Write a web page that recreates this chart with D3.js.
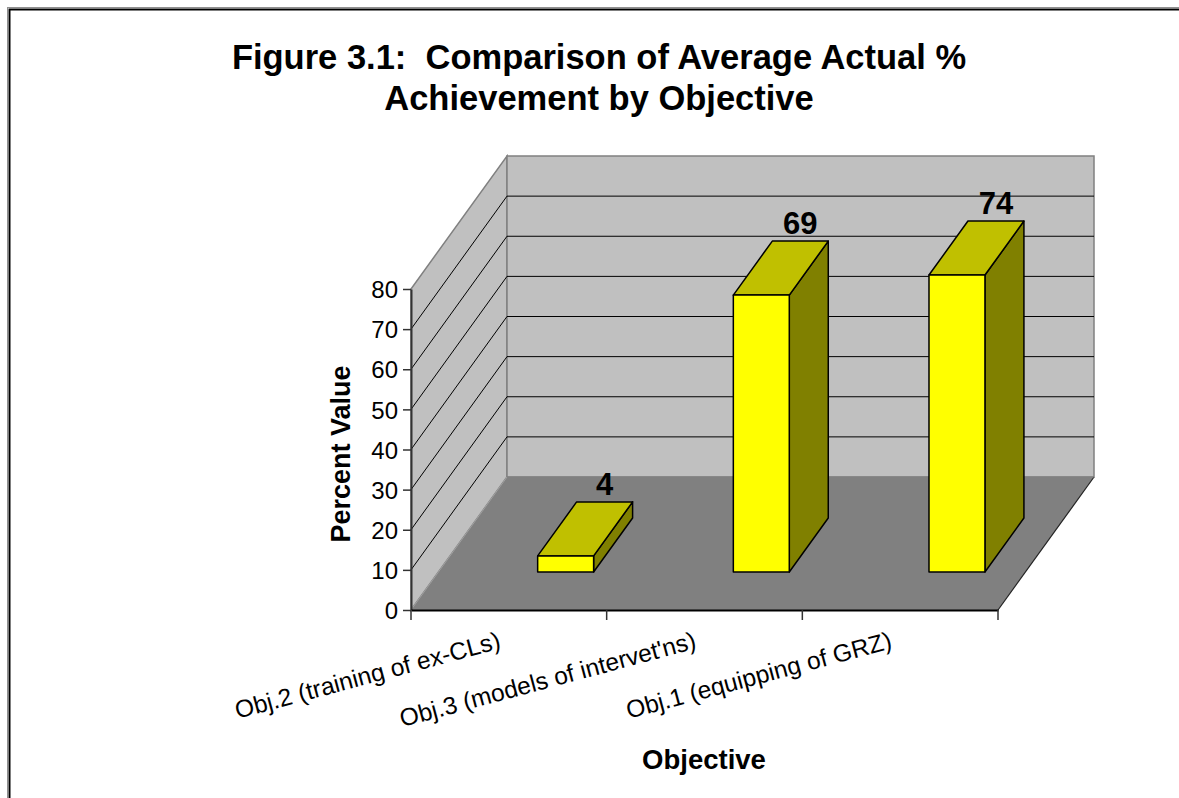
<!DOCTYPE html>
<html>
<head>
<meta charset="utf-8">
<script src="https://cdn.jsdelivr.net/npm/d3@7"></script>
<style>
  html, body { margin: 0; padding: 0; background: #fff; }
  svg { display: block; font-family: "Liberation Sans", Arial, sans-serif; }
  text { white-space: pre; }
</style>
</head>
<body>
<svg id="chart" width="1179" height="798"></svg>
<script>
// Chart data
const categories = ["Obj.2 (training of ex-CLs)", "Obj.3 (models of intervet'ns)", "Obj.1 (equipping of GRZ)"];
const values = [4, 69, 74];
const yTicks = [0, 10, 20, 30, 40, 50, 60, 70, 80];
const titleLines = ["Figure 3.1:  Comparison of Average Actual %", "Achievement by Objective"];
const yAxisTitle = "Percent Value";
const xAxisTitle = "Objective";

const svg = d3.select("#chart");

// Front plane of the 3D box
const frontLeft = 411, frontRight = 998;
const x = d3.scaleBand().domain(categories).range([frontLeft, frontRight]).paddingInner(0).paddingOuter(0);
const y = d3.scaleLinear().domain([0, 80]).range([610, 289]);
// Depth (0 = front, 1 = back wall) as an oblique offset
const depthX = d3.scaleLinear().domain([0, 1]).range([0, 96]);
const depthY = d3.scaleLinear().domain([0, 1]).range([0, -133]);
const P = (px, val, d) => [px + depthX(d), y(val) + depthY(d)];

const yMax = 80;
const line = d3.line();

// Chart border
svg.append("rect").attr("x", 7.5).attr("y", 7.5).attr("width", 1200).attr("height", 820)
  .attr("fill", "none").attr("stroke", "#909090").attr("stroke-width", 1);
svg.append("rect").attr("x", 9.5).attr("y", 9.5).attr("width", 1200).attr("height", 820)
  .attr("fill", "none").attr("stroke", "#000").attr("stroke-width", 2);

// Title
svg.append("g").selectAll("text").data(titleLines).join("text")
  .attr("x", 599).attr("y", (d, i) => 69 + i * 41)
  .attr("text-anchor", "middle").attr("font-weight", "bold").attr("font-size", 34.5)
  .attr("xml:space", "preserve")
  .text(d => d);

// Left side wall
svg.append("path")
  .attr("d", line([P(frontLeft, 0, 0), P(frontLeft, yMax, 0), P(frontLeft, yMax, 1), P(frontLeft, 0, 1)]) + "Z")
  .attr("fill", "#c0c0c0").attr("stroke", "#808080").attr("stroke-width", 1.5);
// Back wall
svg.append("path")
  .attr("d", line([P(frontLeft, 0, 1), P(frontLeft, yMax, 1), P(frontRight, yMax, 1), P(frontRight, 0, 1)]) + "Z")
  .attr("fill", "#c0c0c0").attr("stroke", "#808080").attr("stroke-width", 1.5);

// Gridlines on the walls
const gridVals = yTicks.filter(v => v > 0 && v < yMax);
const grid = svg.append("g").attr("stroke", "#000").attr("stroke-width", 1).attr("fill", "none");
gridVals.forEach(v => {
  grid.append("path").attr("d", line([P(frontLeft, v, 0), P(frontLeft, v, 1), P(frontRight, v, 1)]));
});

// Floor
svg.append("path")
  .attr("d", line([P(frontLeft, 0, 0), P(frontRight, 0, 0), P(frontRight, 0, 1), P(frontLeft, 0, 1)]) + "Z")
  .attr("fill", "#808080").attr("stroke", "none");
svg.append("path").attr("d", line([P(frontRight, 0, 0), P(frontRight, 0, 1)]))
  .attr("stroke", "#222").attr("stroke-width", 1.2);
svg.append("path").attr("d", line([P(frontLeft, 0, 1), P(frontLeft, 0, 0)]))
  .attr("stroke", "#a0a0a0").attr("stroke-width", 1);
svg.append("path").attr("d", line([P(frontLeft, 0, 1), P(frontRight, 0, 1)]))
  .attr("stroke", "#808080").attr("stroke-width", 1);

// Value axis
const yAxis = svg.append("g").attr("transform", `translate(${frontLeft},0)`)
  .call(d3.axisLeft(y).tickValues(yTicks).tickSize(8).tickPadding(5).tickSizeOuter(0));
yAxis.select(".domain").attr("stroke", "#333").attr("stroke-width", 2);
yAxis.selectAll(".tick line").attr("stroke", "#333").attr("stroke-width", 1.5);
yAxis.selectAll(".tick text").attr("font-size", 24).attr("font-family", "Liberation Sans, Arial, sans-serif")
  .attr("fill", "#000").attr("dy", "0.36em");

// Category axis along the floor's front edge
const xAxis = svg.append("g").attr("transform", `translate(0,${y(0)})`)
  .call(d3.axisBottom(x).tickSize(10).tickSizeOuter(0).tickFormat(""));
xAxis.select(".domain").attr("stroke", "#000").attr("stroke-width", 2);
// Ticks sit on the category boundaries
xAxis.selectAll(".tick").remove();
const boundaries = categories.map(c => x(c)).concat([x(categories[categories.length - 1]) + x.bandwidth()]);
xAxis.append("g").selectAll("line").data(boundaries).join("line")
  .attr("x1", d => d).attr("x2", d => d).attr("y1", 0).attr("y2", 10)
  .attr("stroke", "#333").attr("stroke-width", 1.5);

// Category labels, rotated
svg.append("g").selectAll("text").data(categories).join("text")
  .attr("transform", d => `translate(${x(d) + x.bandwidth() / 2 - 7},648) rotate(-15)`)
  .attr("text-anchor", "end").attr("font-size", 24.5)
  .text(d => d);

// 3D columns
const barOffset = 0.507, barWidth = 0.286;  // fractions of a band
const dFront = 0.286, dBack = 0.692;         // depth fractions
const bars = svg.append("g").selectAll("g").data(categories.map((c, i) => ({ c, v: values[i] }))).join("g");
bars.each(function (d) {
  const g = d3.select(this);
  const xl = x(d.c) + barOffset * x.bandwidth();
  const xr = xl + barWidth * x.bandwidth();
  const fBL = P(xl, 0, dFront), fBR = P(xr, 0, dFront), fTL = P(xl, d.v, dFront), fTR = P(xr, d.v, dFront);
  const bBR = P(xr, 0, dBack), bTL = P(xl, d.v, dBack), bTR = P(xr, d.v, dBack);
  // right side
  g.append("path").attr("d", line([fBR, fTR, bTR, bBR]) + "Z")
    .attr("fill", "#808000").attr("stroke", "#000").attr("stroke-width", 1.5).attr("stroke-linejoin", "round");
  // top
  g.append("path").attr("d", line([fTL, fTR, bTR, bTL]) + "Z")
    .attr("fill", "#c0c000").attr("stroke", "#000").attr("stroke-width", 1.5).attr("stroke-linejoin", "round");
  // front
  g.append("path").attr("d", line([fBL, fBR, fTR, fTL]) + "Z")
    .attr("fill", "#ffff00").attr("stroke", "#000").attr("stroke-width", 1.5).attr("stroke-linejoin", "round");
  // value label
  g.append("text")
    .attr("x", (bTL[0] + bTR[0]) / 2).attr("y", bTL[1] - 7)
    .attr("text-anchor", "middle").attr("font-weight", "bold").attr("font-size", 31)
    .text(d.v);
});

// Axis titles
svg.append("text")
  .attr("transform", `translate(350,454) rotate(-90)`)
  .attr("text-anchor", "middle").attr("font-weight", "bold").attr("font-size", 27)
  .text(yAxisTitle);
svg.append("text")
  .attr("x", 704).attr("y", 769)
  .attr("text-anchor", "middle").attr("font-weight", "bold").attr("font-size", 27.5)
  .text(xAxisTitle);
</script>
</body>
</html>
